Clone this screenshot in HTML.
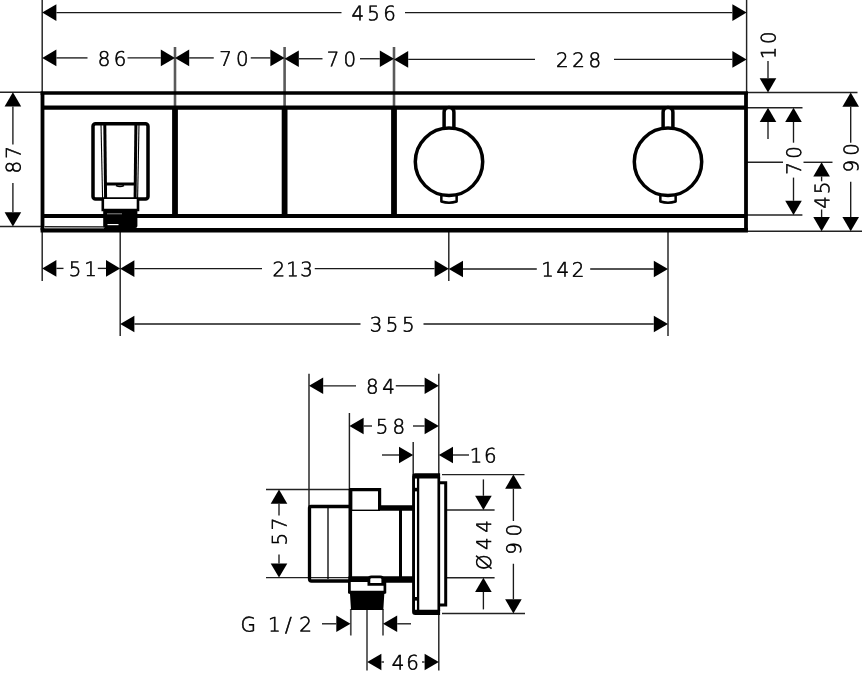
<!DOCTYPE html>
<html><head><meta charset="utf-8"><title>Dimension drawing</title>
<style>
html,body{margin:0;padding:0;background:#fff}
svg{display:block;filter:grayscale(1)}
.d{stroke:#1a1a1a;stroke-width:1.35}
.e{stroke:#222;stroke-width:1.45}
.e2{stroke:#5a5a5a;stroke-width:2.6}
.e3{stroke:#4a4a4a;stroke-width:1.7}
.ah{fill:#000}
.b{stroke:#000;fill:none;stroke-linecap:butt}
text{font-family:"DejaVu Sans Light","DejaVu Sans","Liberation Sans",sans-serif;font-weight:200;font-size:20.0px;fill:#000;stroke:#000;stroke-width:0.6px}
</style></head><body>
<svg width="864" height="675" viewBox="0 0 864 675">
<rect width="864" height="675" fill="#fff"/>
<line class="e" x1="42.20" y1="0.00" x2="42.20" y2="92.00"/>
<line class="e" x1="746.60" y1="0.00" x2="746.60" y2="92.00"/>
<line class="e2" x1="175.00" y1="47.00" x2="175.00" y2="106.00"/>
<line class="e2" x1="284.60" y1="47.00" x2="284.60" y2="106.00"/>
<line class="e2" x1="394.00" y1="47.00" x2="394.00" y2="106.00"/>
<line class="e" x1="0.00" y1="92.30" x2="42.00" y2="92.30"/>
<line class="e" x1="0.00" y1="226.40" x2="42.00" y2="226.40"/>
<line class="e" x1="42.20" y1="232.00" x2="42.20" y2="281.00"/>
<line class="e" x1="120.20" y1="232.00" x2="120.20" y2="336.00"/>
<line class="e" x1="448.80" y1="232.00" x2="448.80" y2="281.00"/>
<line class="e" x1="668.00" y1="232.00" x2="668.00" y2="336.00"/>
<line class="e" x1="746.00" y1="92.50" x2="857.50" y2="92.50"/>
<line class="e" x1="746.00" y1="107.80" x2="802.50" y2="107.80"/>
<line class="e" x1="746.00" y1="162.30" x2="783.00" y2="162.30"/>
<line class="e" x1="803.50" y1="162.30" x2="832.50" y2="162.30"/>
<line class="e" x1="746.00" y1="215.00" x2="802.40" y2="215.00"/>
<line class="e" x1="746.00" y1="231.30" x2="862.00" y2="231.30"/>
<polygon class="ah" points="42.20,12.60 56.40,4.30 56.40,20.90"/>
<polygon class="ah" points="746.60,12.60 732.40,4.30 732.40,20.90"/>
<line class="d" x1="56.40" y1="12.60" x2="341.50" y2="12.60"/>
<line class="d" x1="405.00" y1="12.60" x2="732.40" y2="12.60"/>
<text transform="translate(351.43 20.20) rotate(0.05) scale(0.99 1)" letter-spacing="3.38">456</text>
<polygon class="ah" points="42.20,57.90 56.40,49.60 56.40,66.20"/>
<polygon class="ah" points="175.00,57.90 160.80,49.60 160.80,66.20"/>
<polygon class="ah" points="175.00,57.90 189.20,49.60 189.20,66.20"/>
<polygon class="ah" points="284.60,57.90 270.40,49.60 270.40,66.20"/>
<polygon class="ah" points="284.60,58.75 298.80,50.45 298.80,67.05"/>
<polygon class="ah" points="394.00,58.75 379.80,50.45 379.80,67.05"/>
<polygon class="ah" points="394.00,59.40 408.20,51.10 408.20,67.70"/>
<polygon class="ah" points="746.60,59.40 732.40,51.10 732.40,67.70"/>
<line class="d" x1="56.40" y1="57.90" x2="87.50" y2="57.90"/>
<line class="d" x1="127.50" y1="57.90" x2="160.80" y2="57.90"/>
<line class="d" x1="189.20" y1="57.90" x2="213.75" y2="57.90"/>
<line class="d" x1="250.75" y1="57.90" x2="270.40" y2="57.90"/>
<line class="d" x1="298.80" y1="58.75" x2="322.50" y2="58.75"/>
<line class="d" x1="360.00" y1="58.75" x2="379.80" y2="58.75"/>
<line class="d" x1="408.20" y1="59.40" x2="535.00" y2="59.40"/>
<line class="d" x1="614.00" y1="59.40" x2="732.40" y2="59.40"/>
<text transform="translate(97.63 65.70) rotate(0.05) scale(0.99 1)" letter-spacing="3.63">86</text>
<text transform="translate(219.18 65.70) rotate(0.05) scale(0.99 1)" letter-spacing="4.21">70</text>
<text transform="translate(326.68 66.35) rotate(0.05) scale(0.99 1)" letter-spacing="4.21">70</text>
<text transform="translate(555.93 67.00) rotate(0.05) scale(0.99 1)" letter-spacing="3.72">228</text>
<polygon class="ah" points="12.90,92.30 4.60,106.50 21.20,106.50"/>
<polygon class="ah" points="12.90,226.40 4.60,212.20 21.20,212.20"/>
<line class="d" x1="12.90" y1="106.50" x2="12.90" y2="144.40"/>
<line class="d" x1="12.90" y1="183.00" x2="12.90" y2="212.20"/>
<text transform="translate(20.50 173.57) rotate(-89.95) scale(0.99 1)" letter-spacing="2.29">87</text>
<polygon class="ah" points="768.00,92.50 759.70,78.30 776.30,78.30"/>
<line class="d" x1="768.00" y1="61.00" x2="768.00" y2="78.30"/>
<text transform="translate(775.60 59.35) rotate(-89.95) scale(0.99 1)" letter-spacing="2.72">10</text>
<polygon class="ah" points="768.00,107.80 759.70,122.00 776.30,122.00"/>
<line class="d" x1="768.00" y1="122.00" x2="768.00" y2="139.00"/>
<polygon class="ah" points="793.50,107.80 785.20,122.00 801.80,122.00"/>
<polygon class="ah" points="793.50,215.00 785.20,200.80 801.80,200.80"/>
<line class="d" x1="793.50" y1="122.00" x2="793.50" y2="142.70"/>
<line class="d" x1="793.50" y1="177.60" x2="793.50" y2="200.80"/>
<text transform="translate(801.10 174.82) rotate(-89.95) scale(0.99 1)" letter-spacing="3.60">70</text>
<polygon class="ah" points="821.60,162.30 813.30,176.50 829.90,176.50"/>
<polygon class="ah" points="821.60,231.30 813.30,217.10 829.90,217.10"/>
<line class="d" x1="821.60" y1="176.50" x2="821.60" y2="181.30"/>
<line class="d" x1="821.60" y1="209.50" x2="821.60" y2="217.10"/>
<text transform="translate(829.20 208.67) rotate(-89.95) scale(0.99 1)" letter-spacing="1.90">45</text>
<polygon class="ah" points="850.70,92.50 842.40,106.70 859.00,106.70"/>
<polygon class="ah" points="850.70,231.30 842.40,217.10 859.00,217.10"/>
<line class="d" x1="850.70" y1="106.70" x2="850.70" y2="142.70"/>
<line class="d" x1="850.70" y1="181.80" x2="850.70" y2="217.10"/>
<text transform="translate(858.30 172.62) rotate(-89.95) scale(0.99 1)" letter-spacing="4.21">90</text>
<polygon class="ah" points="42.20,268.40 56.40,260.10 56.40,276.70"/>
<polygon class="ah" points="120.20,268.40 106.00,260.10 106.00,276.70"/>
<polygon class="ah" points="120.20,268.65 134.40,260.35 134.40,276.95"/>
<polygon class="ah" points="448.80,268.65 434.60,260.35 434.60,276.95"/>
<polygon class="ah" points="448.80,269.00 463.00,260.70 463.00,277.30"/>
<polygon class="ah" points="668.00,269.00 653.80,260.70 653.80,277.30"/>
<line class="d" x1="56.40" y1="268.40" x2="63.50" y2="268.40"/>
<line class="d" x1="97.80" y1="268.40" x2="106.00" y2="268.40"/>
<line class="d" x1="134.40" y1="268.65" x2="262.00" y2="268.65"/>
<line class="d" x1="314.75" y1="268.65" x2="434.60" y2="268.65"/>
<line class="d" x1="463.00" y1="269.00" x2="536.80" y2="269.00"/>
<line class="d" x1="590.20" y1="269.00" x2="653.80" y2="269.00"/>
<text transform="translate(68.85 276.00) rotate(0.05) scale(0.99 1)" letter-spacing="2.89">51</text>
<text transform="translate(272.43 276.25) rotate(0.05) scale(0.99 1)" letter-spacing="1.29">213</text>
<text transform="translate(541.15 276.60) rotate(0.05) scale(0.99 1)" letter-spacing="2.70">142</text>
<polygon class="ah" points="120.20,323.95 134.40,315.65 134.40,332.25"/>
<polygon class="ah" points="668.00,323.95 653.80,315.65 653.80,332.25"/>
<line class="d" x1="134.40" y1="323.95" x2="360.50" y2="323.95"/>
<line class="d" x1="423.50" y1="323.95" x2="653.80" y2="323.95"/>
<text transform="translate(369.69 331.55) rotate(0.05) scale(0.99 1)" letter-spacing="3.55">355</text>
<g class="b">
<line x1="40.6" y1="93.0" x2="747.9" y2="93.0" stroke-width="3.6"/>
<line x1="42.5" y1="107.6" x2="746.0" y2="107.6" stroke-width="4.4"/>
<line x1="42.5" y1="216.0" x2="746.0" y2="216.0" stroke-width="4"/>
<line x1="40.6" y1="230.3" x2="747.9" y2="230.3" stroke-width="4.4"/>
<line x1="42.5" y1="93.0" x2="42.5" y2="230.3" stroke-width="3.8"/>
<line x1="746.0" y1="93.0" x2="746.0" y2="230.3" stroke-width="3.8"/>
<line x1="175.0" y1="107.6" x2="175.0" y2="216.0" stroke-width="5.8"/>
<line x1="284.6" y1="107.6" x2="284.6" y2="216.0" stroke-width="5.8"/>
<line x1="394.0" y1="107.6" x2="394.0" y2="216.0" stroke-width="5.8"/>
<rect x="44.4" y="226.4" width="59.6" height="2.1" fill="#a0a0a0" stroke="none"/>
<line x1="44.4" y1="226.5" x2="104" y2="226.8" stroke-width="1.1" stroke="#222"/>
</g>
<g class="b" stroke-width="3.5">
<path d="M444.1 128 V112.3 a4.9 4.9 0 0 1 9.8 0 V128" fill="#fff"/>
<path d="M441.35 196 V201.5 Q449.0 203.8 456.65 201.5 V196" fill="#fff" stroke-width="2.5" stroke-linejoin="round"/>
<circle cx="449.0" cy="161.79999999999998" r="33.7" fill="#fff"/>
</g>
<g class="b" stroke-width="3.5">
<path d="M663.1 128 V112.3 a4.9 4.9 0 0 1 9.8 0 V128" fill="#fff"/>
<path d="M660.35 196 V201.5 Q668.0 203.8 675.65 201.5 V196" fill="#fff" stroke-width="2.5" stroke-linejoin="round"/>
<circle cx="668.0" cy="161.79999999999998" r="33.7" fill="#fff"/>
</g>
<g class="b">
<rect x="93" y="123.8" width="55" height="75.2" rx="2.5" stroke-width="3.5" fill="none"/>
<path d="M104.8 124 L105.6 199" stroke-width="3"/>
<path d="M135.9 124 L135.1 199" stroke-width="3"/>
<path d="M101 124 L102.6 199" stroke-width="1.1"/>
<path d="M139 124 L137.6 199" stroke-width="1.1"/>
<path d="M105 184 H136" stroke-width="3"/>
<path d="M116 185.5 Q120 187.5 124 185.5" stroke-width="1.5" fill="none"/>
<path d="M102.8 199 V210 H138 V199" stroke-width="2.6" fill="#fff"/>
<rect x="103.2" y="209.5" width="34.2" height="18.5" rx="2" fill="#000" stroke="none"/>
<path d="M107 213.8 H122" stroke="#999" stroke-width="0.9"/>
<path d="M107.5 224.6 H118.5" stroke="#fff" stroke-width="1.2"/>
</g>
<line class="e" x1="309.00" y1="373.70" x2="309.00" y2="506.00"/>
<line class="e" x1="349.40" y1="413.00" x2="349.40" y2="489.00"/>
<line class="e" x1="413.20" y1="442.00" x2="413.20" y2="475.00"/>
<line class="e" x1="438.80" y1="373.70" x2="438.80" y2="475.00"/>
<line class="e" x1="438.80" y1="614.00" x2="438.80" y2="670.60"/>
<line class="e" x1="266.00" y1="489.50" x2="350.00" y2="489.50"/>
<line class="e" x1="266.00" y1="577.60" x2="368.00" y2="577.60"/>
<line class="e" x1="442.00" y1="474.60" x2="524.50" y2="474.60"/>
<line class="e" x1="442.00" y1="613.40" x2="525.00" y2="613.40"/>
<line class="e" x1="447.00" y1="510.00" x2="494.60" y2="510.00"/>
<line class="e" x1="447.00" y1="577.70" x2="494.60" y2="577.70"/>
<line class="e3" x1="350.80" y1="609.00" x2="350.80" y2="635.50"/>
<line class="e3" x1="367.00" y1="609.00" x2="367.00" y2="670.60"/>
<line class="e3" x1="383.00" y1="609.00" x2="383.00" y2="635.50"/>
<polygon class="ah" points="309.00,385.80 323.20,377.50 323.20,394.10"/>
<polygon class="ah" points="438.80,385.80 424.60,377.50 424.60,394.10"/>
<line class="d" x1="323.20" y1="385.80" x2="356.00" y2="385.80"/>
<line class="d" x1="395.80" y1="385.80" x2="424.60" y2="385.80"/>
<text transform="translate(365.93 393.40) rotate(0.05) scale(0.99 1)" letter-spacing="3.69">84</text>
<polygon class="ah" points="349.40,426.00 363.60,417.70 363.60,434.30"/>
<polygon class="ah" points="438.80,426.00 424.60,417.70 424.60,434.30"/>
<line class="d" x1="363.60" y1="426.00" x2="372.00" y2="426.00"/>
<line class="d" x1="413.00" y1="426.00" x2="424.60" y2="426.00"/>
<text transform="translate(375.85 433.60) rotate(0.05) scale(0.99 1)" letter-spacing="4.07">58</text>
<polygon class="ah" points="413.20,455.00 399.00,446.70 399.00,463.30"/>
<line class="d" x1="382.00" y1="455.00" x2="399.00" y2="455.00"/>
<polygon class="ah" points="438.80,455.00 453.00,446.70 453.00,463.30"/>
<line class="d" x1="453.00" y1="455.00" x2="469.00" y2="455.00"/>
<text transform="translate(469.65 462.60) rotate(0.05) scale(0.99 1)" letter-spacing="1.89">16</text>
<polygon class="ah" points="279.00,489.50 270.70,503.70 287.30,503.70"/>
<polygon class="ah" points="279.00,577.60 270.70,563.40 287.30,563.40"/>
<line class="d" x1="279.00" y1="503.70" x2="279.00" y2="515.50"/>
<line class="d" x1="279.00" y1="554.60" x2="279.00" y2="563.40"/>
<text transform="translate(286.60 545.55) rotate(-89.95) scale(0.99 1)" letter-spacing="2.78">57</text>
<polygon class="ah" points="483.40,510.00 475.10,495.80 491.70,495.80"/>
<line class="d" x1="483.40" y1="479.40" x2="483.40" y2="495.80"/>
<polygon class="ah" points="483.40,577.70 475.10,591.90 491.70,591.90"/>
<line class="d" x1="483.40" y1="591.90" x2="483.40" y2="609.40"/>
<text transform="translate(491.00 570.07) rotate(-89.95) scale(0.99 1)" letter-spacing="4.58">Ø44</text>
<polygon class="ah" points="513.40,474.60 505.10,488.80 521.70,488.80"/>
<polygon class="ah" points="513.40,613.40 505.10,599.20 521.70,599.20"/>
<line class="d" x1="513.40" y1="488.80" x2="513.40" y2="521.00"/>
<line class="d" x1="513.40" y1="563.75" x2="513.40" y2="599.20"/>
<text transform="translate(521.00 554.82) rotate(-89.95) scale(0.99 1)" letter-spacing="5.72">90</text>
<polygon class="ah" points="350.50,623.80 336.30,615.50 336.30,632.10"/>
<line class="d" x1="322.00" y1="623.80" x2="336.30" y2="623.80"/>
<polygon class="ah" points="383.00,623.80 397.20,615.50 397.20,632.10"/>
<line class="d" x1="397.20" y1="623.80" x2="411.00" y2="623.80"/>
<text transform="translate(240.5 631.40) rotate(0.05)" x="0 16 27.6 44.5 58.8">G 1/2</text>
<polygon class="ah" points="367.20,662.00 381.40,653.70 381.40,670.30"/>
<polygon class="ah" points="438.80,662.00 424.60,653.70 424.60,670.30"/>
<line class="d" x1="381.40" y1="662.00" x2="384.00" y2="662.00"/>
<line class="d" x1="422.00" y1="662.00" x2="424.60" y2="662.00"/>
<text transform="translate(391.83 669.60) rotate(0.05) scale(0.99 1)" letter-spacing="1.91">46</text>
<g class="b">
<path d="M350 506.5 H311 Q309.5 506.5 309.5 508 V579 Q309.5 581 311.5 581 H350" stroke-width="3.3" fill="none"/>
<line x1="328" y1="508" x2="328" y2="579" stroke-width="1.3"/>
<path d="M350.7 510 V489.6 H379.6 V510" stroke-width="3.2" fill="#fff"/>
<line x1="351" y1="510.3" x2="380" y2="510.3" stroke-width="1.4"/>
<line x1="350.3" y1="489" x2="350.3" y2="592" stroke-width="3.6"/>
<line x1="378" y1="508" x2="413" y2="508" stroke-width="5.6"/>
<line x1="348.5" y1="579.5" x2="413" y2="579.5" stroke-width="6.4"/>
<line x1="400.5" y1="508" x2="400.5" y2="579" stroke-width="3"/>
<path d="M349.4 582 V592 H384.9 V582" stroke-width="2.7" fill="#fff"/>
<path d="M368.9 584.3 V579.2 Q368.9 576.8 371.5 576.8 H380.2 Q382.8 576.8 382.8 579.2 V584.3 Z" stroke-width="2.8" fill="#fff"/>
<path d="M348.3 591 H386 V593.3 L384.3 594 L383.3 610 H351 L350 594 L348.3 593.3 Z" fill="#000" stroke="none"/>
<path d="M412.1 476.5 Q412.1 473.3 415.3 473.3 H440.1 V478.4 H415 V609.8 H440.1 V615 H415.3 Q412.1 615 412.1 611.8 Z" fill="#000" stroke="none"/>
<path d="M418.1 477 V611" stroke-width="2.3"/>
<path d="M438.8 477 V611" stroke-width="2.7"/>
<rect x="413" y="487.8" width="5" height="3.6" fill="#000" stroke="none"/>
<rect x="413" y="597" width="5" height="3.6" fill="#000" stroke="none"/>
<path d="M439 482.8 H445.7 V605.1 H439" stroke-width="3" fill="none"/>
</g>
</svg>
</body></html>
